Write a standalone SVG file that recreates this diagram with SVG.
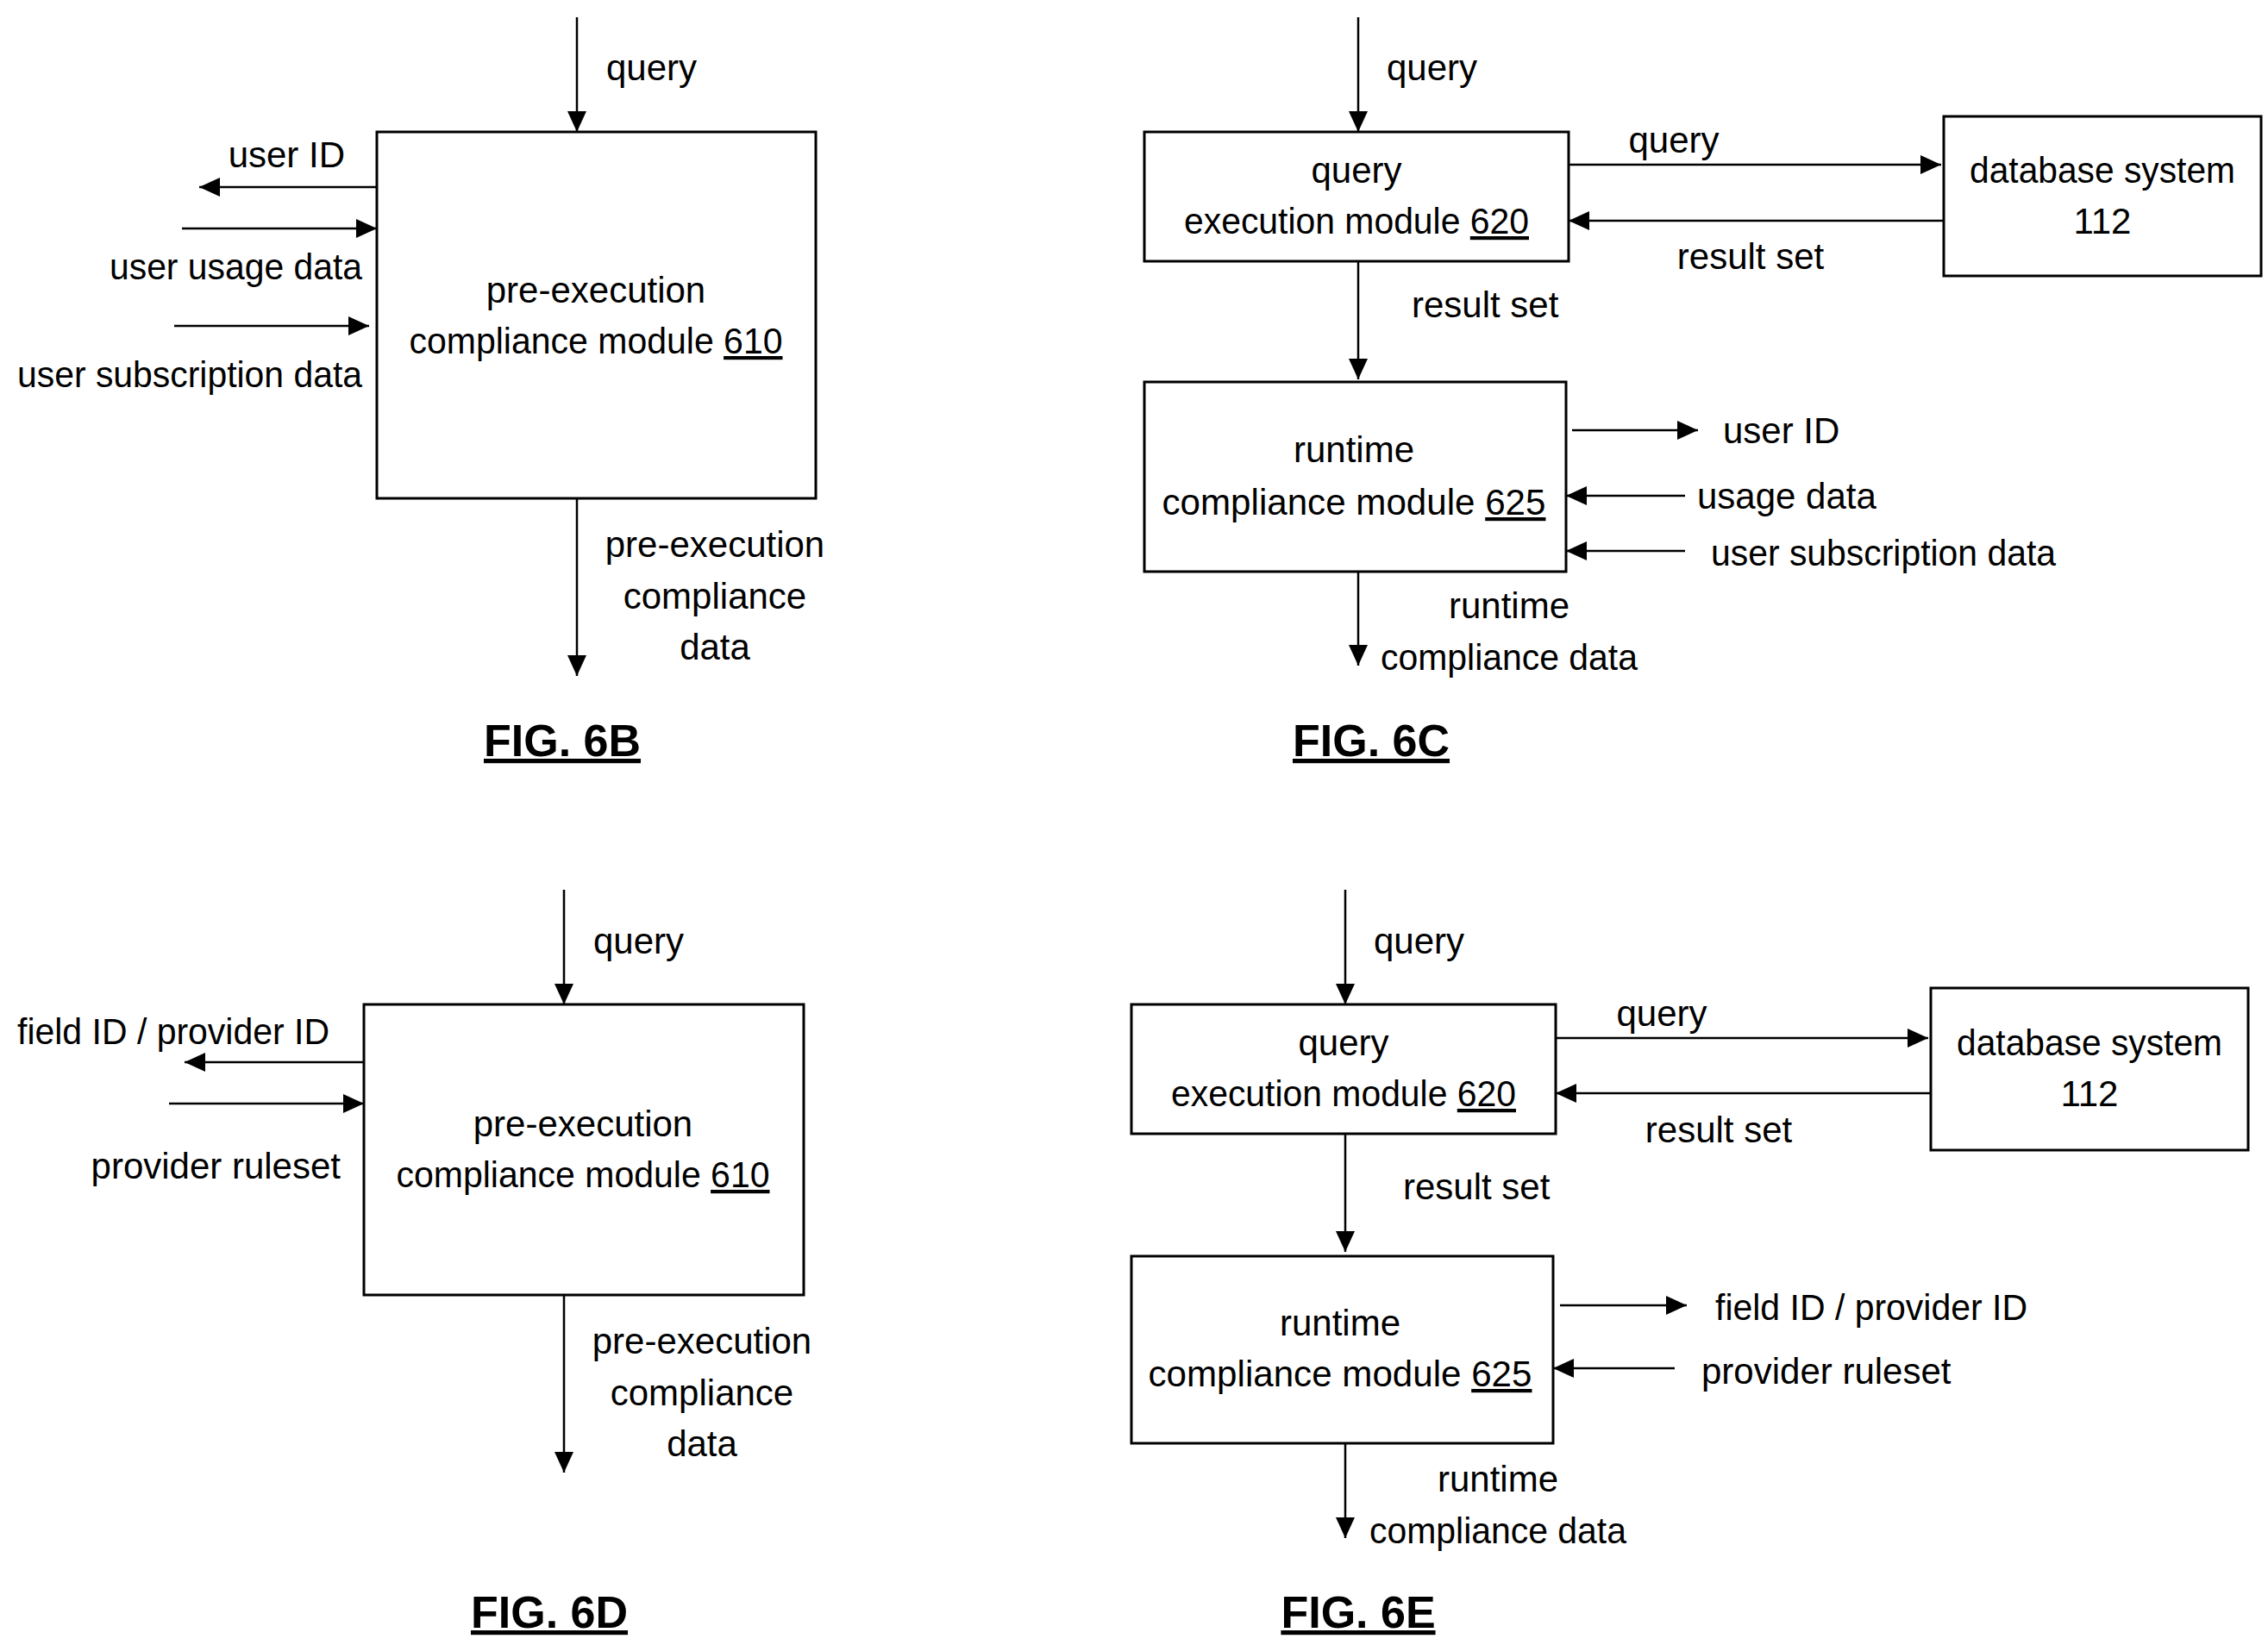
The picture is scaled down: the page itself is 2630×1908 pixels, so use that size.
<svg xmlns="http://www.w3.org/2000/svg" width="2630" height="1908" viewBox="0 0 2630 1908">
<style>
text{font-family:"Liberation Sans Narrow","Liberation Sans",Arial,sans-serif;font-stretch:condensed;font-size:42px;fill:#000}
.m{text-anchor:middle}.e{text-anchor:end}
.u{text-decoration:underline}
.fig{font-weight:bold;font-size:52px;text-decoration:underline;text-anchor:middle}
rect{fill:#fff;stroke:#000;stroke-width:3}
line{stroke:#000;stroke-width:2.5;marker-end:url(#a)}
</style>
<defs><marker id="a" markerUnits="userSpaceOnUse" markerWidth="26" markerHeight="22" refX="24" refY="11" orient="auto"><path d="M0,0 L24,11 L0,22 z" fill="#000"/></marker></defs>
<rect width="2630" height="1908" style="stroke:none"/>
<g id="connectors">
<line x1="669" y1="20" x2="669" y2="153"/>
<line x1="437" y1="217" x2="231" y2="217"/>
<line x1="211" y1="265" x2="437" y2="265"/>
<line x1="202" y1="378" x2="428" y2="378"/>
<line x1="669" y1="578" x2="669" y2="784"/>
<line x1="1575" y1="20" x2="1575" y2="153"/>
<line x1="1819" y1="191" x2="2251" y2="191"/>
<line x1="2254" y1="256" x2="1819" y2="256"/>
<line x1="1575" y1="303" x2="1575" y2="440"/>
<line x1="1823" y1="499" x2="1969" y2="499"/>
<line x1="1954" y1="575" x2="1816" y2="575"/>
<line x1="1954" y1="639" x2="1816" y2="639"/>
<line x1="1575" y1="663" x2="1575" y2="772"/>
<line x1="654" y1="1032" x2="654" y2="1165"/>
<line x1="422" y1="1232" x2="214" y2="1232"/>
<line x1="196" y1="1280" x2="422" y2="1280"/>
<line x1="654" y1="1502" x2="654" y2="1708"/>
<line x1="1560" y1="1032" x2="1560" y2="1165"/>
<line x1="1804" y1="1204" x2="2236" y2="1204"/>
<line x1="2239" y1="1268" x2="1804" y2="1268"/>
<line x1="1560" y1="1315" x2="1560" y2="1452"/>
<line x1="1809" y1="1514" x2="1956" y2="1514"/>
<line x1="1942" y1="1587" x2="1801" y2="1587"/>
<line x1="1560" y1="1674" x2="1560" y2="1784"/>
</g>
<g id="labels">
<text x="703" y="93">query</text>
<text x="400" y="194" class="e">user ID</text>
<text x="420" y="324" class="e" textLength="293" lengthAdjust="spacingAndGlyphs">user usage data</text>
<text x="420" y="449" class="e" textLength="400" lengthAdjust="spacingAndGlyphs">user subscription data</text>
<text x="829" y="646" class="m">pre-execution</text>
<text x="829" y="706" class="m">compliance</text>
<text x="829" y="765" class="m">data</text>
<text x="1608" y="93">query</text>
<text x="1941" y="177" class="m">query</text>
<text x="2030" y="312" class="m">result set</text>
<text x="1637" y="368">result set</text>
<text x="1998" y="514">user ID</text>
<text x="1968" y="590">usage data</text>
<text x="1984" y="656" textLength="400" lengthAdjust="spacingAndGlyphs">user subscription data</text>
<text x="1750" y="717" class="m">runtime</text>
<text x="1750" y="777" class="m" textLength="298" lengthAdjust="spacingAndGlyphs">compliance data</text>
<text x="688" y="1106">query</text>
<text x="20" y="1211" textLength="362" lengthAdjust="spacingAndGlyphs">field ID / provider ID</text>
<text x="395" y="1367" class="e">provider ruleset</text>
<text x="814" y="1570" class="m">pre-execution</text>
<text x="814" y="1630" class="m">compliance</text>
<text x="814" y="1689" class="m">data</text>
<text x="1593" y="1106">query</text>
<text x="1927" y="1190" class="m">query</text>
<text x="1993" y="1325" class="m">result set</text>
<text x="1627" y="1391">result set</text>
<text x="1989" y="1531" textLength="362" lengthAdjust="spacingAndGlyphs">field ID / provider ID</text>
<text x="1973" y="1605">provider ruleset</text>
<text x="1737" y="1730" class="m">runtime</text>
<text x="1737" y="1790" class="m" textLength="298" lengthAdjust="spacingAndGlyphs">compliance data</text>
</g>
<g id="pre610b"><rect x="437" y="153" width="509" height="425"/>
<text x="691" y="351" class="m">pre-execution</text><text x="691" y="410" class="m" textLength="433" lengthAdjust="spacingAndGlyphs">compliance module <tspan class="u">610</tspan></text></g>
<g id="qem620c"><rect x="1327" y="153" width="492" height="150"/>
<text x="1573" y="212" class="m">query</text><text x="1573" y="271" class="m" textLength="400" lengthAdjust="spacingAndGlyphs">execution module <tspan class="u">620</tspan></text></g>
<g id="db112c"><rect x="2254" y="135" width="368" height="185"/>
<text x="2438" y="212" class="m" textLength="308" lengthAdjust="spacingAndGlyphs">database system</text><text x="2438" y="271" class="m">112</text></g>
<g id="rcm625c"><rect x="1327" y="443" width="489" height="220"/>
<text x="1570" y="536" class="m">runtime</text><text x="1570" y="597" class="m" textLength="445" lengthAdjust="spacingAndGlyphs">compliance module  <tspan class="u">625</tspan></text></g>
<g id="pre610d"><rect x="422" y="1165" width="510" height="337"/>
<text x="676" y="1318" class="m">pre-execution</text><text x="676" y="1377" class="m" textLength="433" lengthAdjust="spacingAndGlyphs">compliance module <tspan class="u">610</tspan></text></g>
<g id="qem620e"><rect x="1312" y="1165" width="492" height="150"/>
<text x="1558" y="1224" class="m">query</text><text x="1558" y="1283" class="m" textLength="400" lengthAdjust="spacingAndGlyphs">execution module <tspan class="u">620</tspan></text></g>
<g id="db112e"><rect x="2239" y="1146" width="368" height="188"/>
<text x="2423" y="1224" class="m" textLength="308" lengthAdjust="spacingAndGlyphs">database system</text><text x="2423" y="1283" class="m">112</text></g>
<g id="rcm625e"><rect x="1312" y="1457" width="489" height="217"/>
<text x="1554" y="1549" class="m">runtime</text><text x="1554" y="1608" class="m" textLength="445" lengthAdjust="spacingAndGlyphs">compliance module  <tspan class="u">625</tspan></text></g>
<g id="figs">
<text x="652" y="877" class="fig">FIG. 6B</text>
<text x="1590" y="877" class="fig">FIG. 6C</text>
<text x="637" y="1888" class="fig">FIG. 6D</text>
<text x="1575" y="1888" class="fig">FIG. 6E</text>
</g>
</svg>
